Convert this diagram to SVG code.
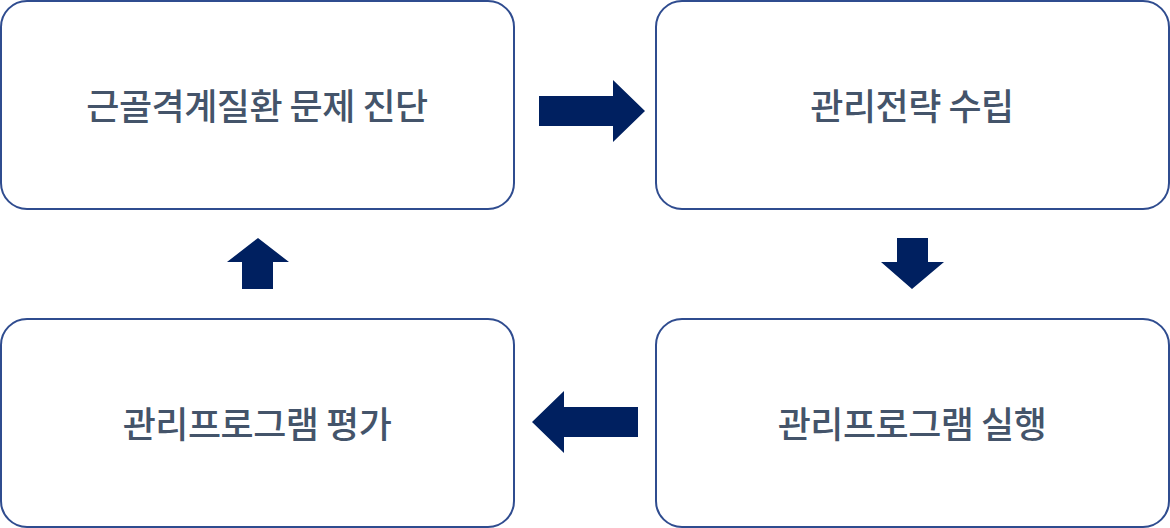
<svg xmlns="http://www.w3.org/2000/svg" width="1170" height="528" viewBox="0 0 1170 528">
<style>
.box{fill:#fff;stroke:#2F4C8F;stroke-width:2}
.t{font-family:"Noto Sans CJK KR",sans-serif;font-size:36px;fill:#44546A;text-anchor:middle;dominant-baseline:central;font-weight:500;letter-spacing:-0.5px}
.a{fill:#002060}
</style>
<rect width="1170" height="528" fill="#fff"/>
<g id="n1"><rect class="box" x="1" y="1" width="513" height="208" rx="26"/><text class="t" x="257" y="104">근골격계질환 문제 진단</text></g>
<g id="n2"><rect class="box" x="656" y="1" width="513" height="208" rx="26"/><text class="t" x="912" y="104">관리전략 수립</text></g>
<g id="n3"><rect class="box" x="656" y="319" width="513" height="208" rx="26"/><text class="t" x="912" y="422">관리프로그램 실행</text></g>
<g id="n4"><rect class="box" x="1" y="319" width="513" height="208" rx="26"/><text class="t" x="257" y="422">관리프로그램 평가</text></g>
<g id="connectors">
<polygon class="a" points="539,96 613,96 613,80 645,111 613,142 613,126 539,126"/>
<polygon class="a" points="897,238 928,238 928,262 944,262 912,289 881,262 897,262"/>
<polygon class="a" points="638,407 564,407 564,391 532,422 564,453 564,437 638,437"/>
<polygon class="a" points="242,289 273,289 273,262 289,262 258,238 227,262 242,262"/>
</g>
</svg>
